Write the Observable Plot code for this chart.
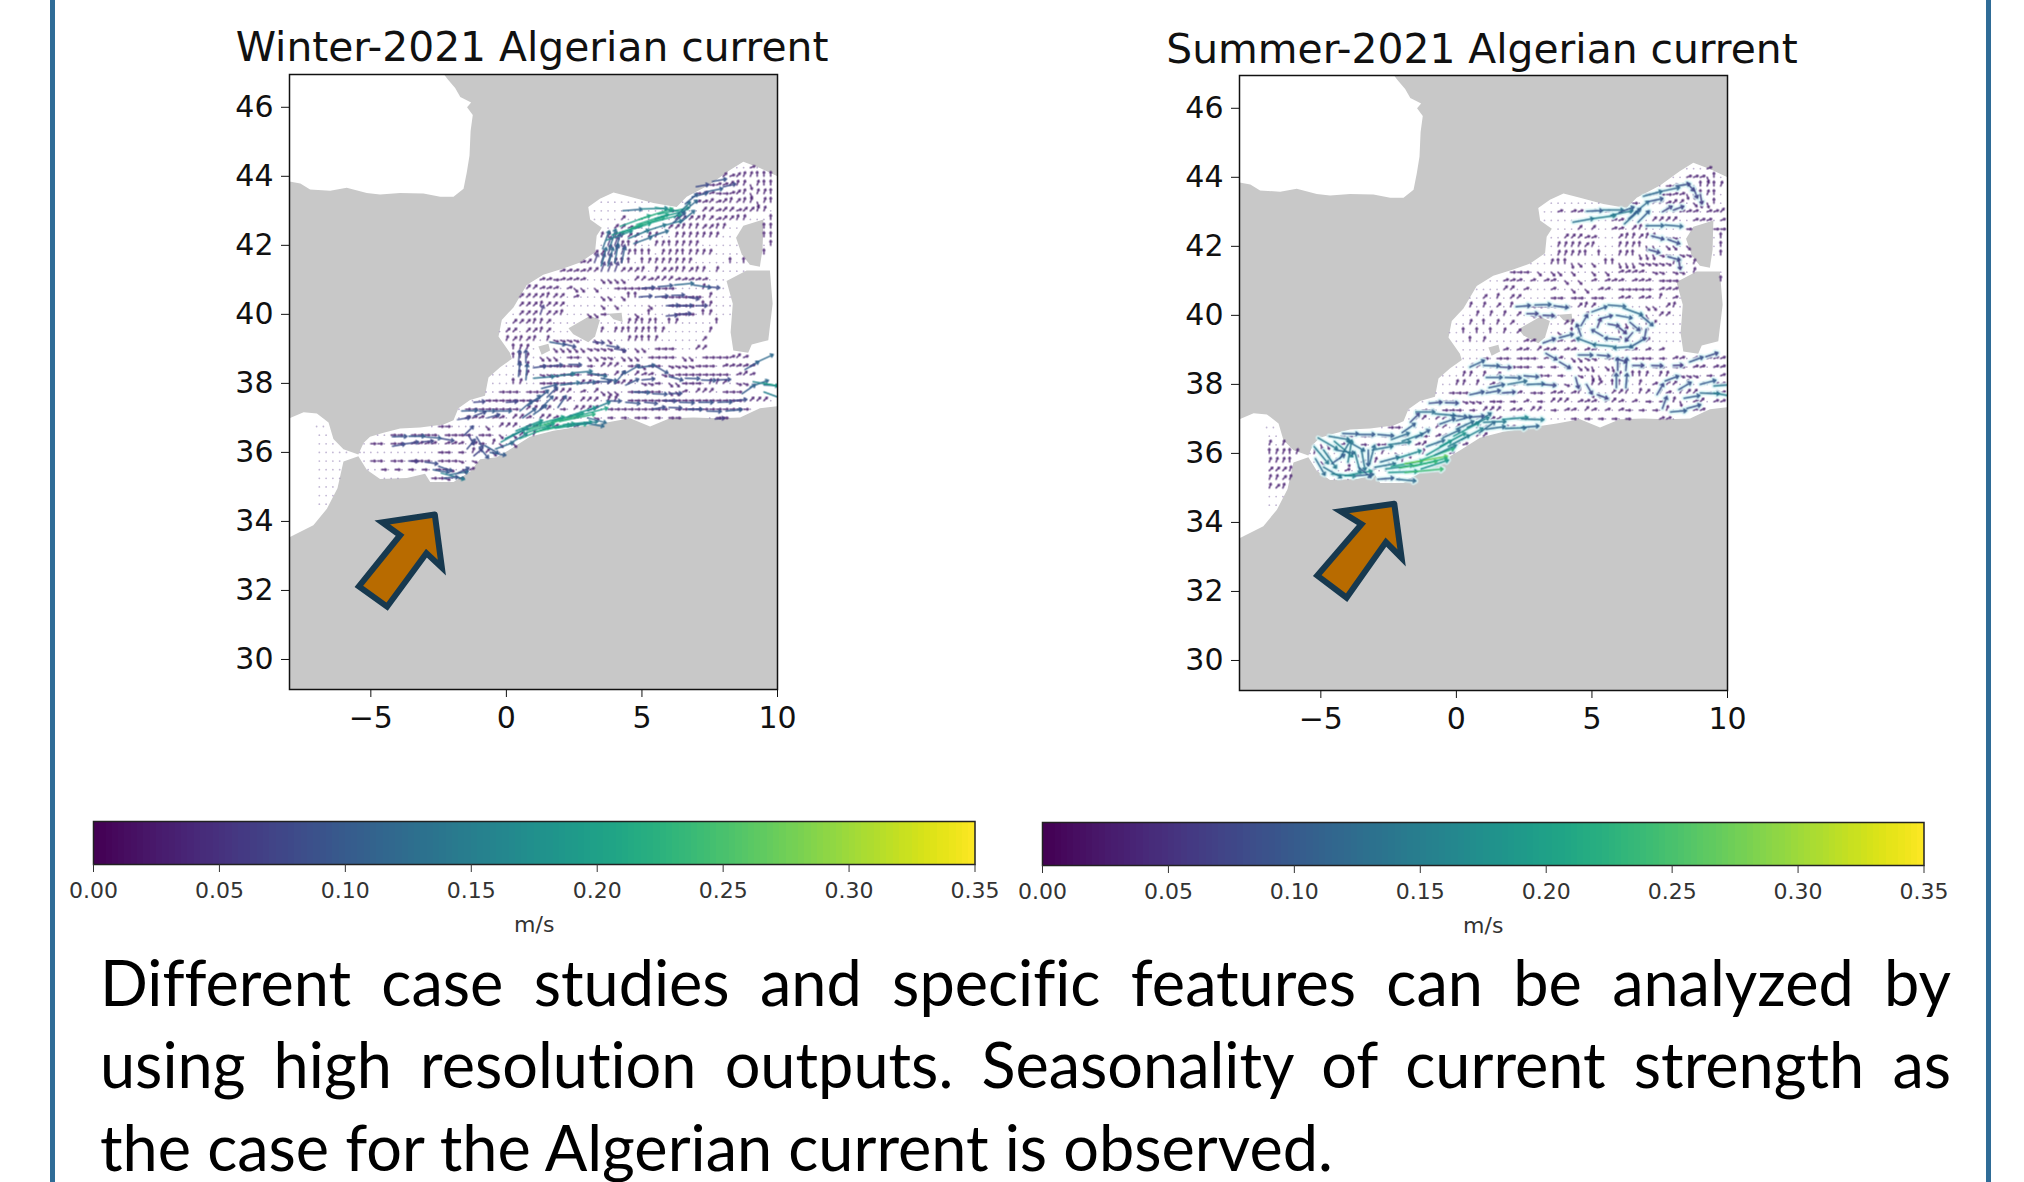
<!DOCTYPE html>
<html>
<head>
<meta charset="utf-8">
<script src="https://cdn.jsdelivr.net/npm/d3@7"></script>
<script src="https://cdn.jsdelivr.net/npm/@observablehq/plot@0.6"></script>
<style>
html,body{margin:0;padding:0;background:#fff;width:2024px;height:1182px;overflow:hidden}
.abs{position:absolute}
.title{font-family:"DejaVu Sans";font-size:40.8px;color:#111;white-space:nowrap;transform:translateX(-50%)}
.para{position:absolute;left:100px;width:1851px;font-family:Lato;font-size:63px;font-variant-ligatures:none;color:#000;white-space:nowrap;text-align:justify;text-align-last:justify;line-height:82px}
.rule{position:absolute;top:0;height:1182px;width:5px;background:#2f6c97}
svg{overflow:visible}
</style>
</head>
<body>
<div class="rule" style="left:50px"></div>
<div class="rule" style="left:1986px"></div>
<div id="root"></div>
<script>
const lonTicks = [-5, 0, 5, 10];
const latTicks = [30, 32, 34, 36, 38, 40, 42, 44, 46];
const barTicks = [0, 0.05, 0.1, 0.15, 0.2, 0.25, 0.3, 0.35];
const titles = ["Winter-2021 Algerian current", "Summer-2021 Algerian current"];
const noteLines = [
  "Different case studies and specific features can be analyzed by",
  "using high resolution outputs. Seasonality of current strength as",
  "the case for the Algerian current is observed."
];

const biscaySea = [[-8,46.95],[-2.3,46.95],[-2.15,46.8],[-1.89,46.56],[-1.7,46.3],[-1.3,46.14],[-1.45,46],[-1.24,45.78],[-1.32,45.31],[-1.36,44.6],[-1.46,44.12],[-1.58,43.64],[-1.95,43.41],[-2.44,43.41],[-3.06,43.5],[-3.92,43.52],[-4.66,43.47],[-5.15,43.52],[-5.89,43.67],[-6.5,43.58],[-7.24,43.62],[-7.6,43.79],[-8,43.85]];
const medSea = [[-8,36.99],[-7.48,37.16],[-6.99,37.13],[-6.56,36.87],[-6.38,36.39],[-6.01,36.09],[-5.46,35.94],[-5.27,36.27],[-5.03,36.45],[-4.53,36.57],[-3.92,36.69],[-3.18,36.72],[-2.32,36.81],[-1.95,36.93],[-1.77,37.28],[-1.34,37.52],[-0.79,37.64],[-0.66,38.17],[-0.23,38.47],[0.2,38.71],[0.13,38.89],[-0.29,39.36],[-0.17,39.84],[0.26,40.2],[0.75,40.85],[1.36,41.15],[2.1,41.33],[2.72,41.5],[3.27,41.8],[3.33,42.28],[3.52,42.51],[3.09,42.75],[3.02,43.11],[3.45,43.35],[3.95,43.53],[4.56,43.41],[5.42,43.23],[6.28,43.11],[6.65,43.41],[7.51,43.76],[8.25,44.18],[8.74,44.42],[9.35,44.24],[10,44],[10,37.34],[9.35,37.28],[8.62,37.01],[7.76,36.99],[6.9,37.01],[6.03,36.99],[5.3,36.75],[4.56,36.99],[3.7,36.87],[2.72,36.75],[1.73,36.63],[0.87,36.45],[0.14,36.09],[-0.36,35.86],[-0.97,35.8],[-1.34,35.44],[-1.95,35.14],[-2.81,35.14],[-3,35.38],[-3.67,35.26],[-4.66,35.23],[-5.15,35.5],[-5.39,35.8],[-5.46,35.89],[-6.01,35.74],[-6.23,34.96],[-6.62,34.37],[-7.12,33.89],[-8,33.54]];
const mallorca = [[2.29,39.6],[3.09,39.96],[3.45,39.84],[3.27,39.36],[3.02,39.19],[2.47,39.42]];
const menorca = [[3.76,40.02],[4.25,40.05],[4.29,39.78],[3.95,39.86]];
const ibiza = [[1.18,39.07],[1.55,39.15],[1.61,38.95],[1.3,38.83]];
const corsica = [[9.48,42.75],[9.45,41.9],[9.35,41.38],[8.98,41.44],[8.68,41.74],[8.47,42.22],[8.74,42.57]];
const sardinia = [[8.86,41.27],[9.72,41.27],[9.82,40.31],[9.66,39.25],[9.05,39.13],[8.92,38.89],[8.37,38.95],[8.27,39.48],[8.35,40.31],[8.12,40.97]];
const islands = [mallorca, menorca, ibiza, corsica, sardinia];

const winterArrow = [[-2.64,34.2],[-4.58,33.97],[-3.92,33.6],[-5.44,32.12],[-4.4,31.53],[-2.95,33.08],[-2.38,32.66],[-2.64,34.2]];
const summerArrow = [[-2.29,34.54],[-4.27,34.32],[-3.5,33.95],[-5.13,32.46],[-4.05,31.82],[-2.6,33.43],[-2.02,32.97],[-2.29,34.54]];

// Dab field read row by row on the 0.25 degree grid: [lat, first lon, one mark per cell].
// "." calm; letter = heading class, lower case weak, upper case stronger.
const headingByLetter = {e:90, s:70, r:45, q:20, n:0, p:160, f:135, t:110};

const winterRows = [
 [44.25,8.5,"..s.n...."],
 [44,8,"rsrqqnnnn"],
 [43.75,7.25,"eessrqqpqnnnq"],
 [43.5,7,"esseesrqpqqnnq"],
 [43.25,3.5,"..............ssrsrqrqqpqnnq"],
 [43,3.25,"...........e....rrsrrsrrqq..nn"],
 [42.75,3.25,"....r.......rrrrqrsrrqq...nnq"],
 [42.5,3.5,"..rrss....rrqqqrrqq....qnnn"],
 [42.25,3.5,"qqqqrr.qq..qqqqqqq.....nnn"],
 [42,3.25,"..QQqnq..qqnqqqq......nnn.n"],
 [41.75,2.75,"..rrQQQqnnn.qqqnqqqq.....n.n"],
 [41.5,2.25,"eesrQQQqnn.nqqqqqqq.....n.n"],
 [41.25,1.25,"sssssssrrQQQrrrq.qrrqqrqq.q.....nn"],
 [41,0.75,"..ssessss..ffff.rrsrrrsssss.....n"],
 [40.75,0.5,".rrsss.sff.f..eeeeeeeee....q...nn"],
 [40.5,0.25,".rrrrqrr.s...ff.fnn...eeeeee.q....n"],
 [40.25,0,"..rrrqrrr.....f.f....f..eeee.nq.....n"],
 [40,-0.25,"...rrrQrrq...ffe....f.n...eee.nq....n"],
 [39.75,-0.25,"..rrrqqr...........qqnqn.nq.....n"],
 [39.5,-0.25,".rr.rrqr......nq.qqnqqnnq......q"],
 [39.25,-0.25,".qrqrq.qtttt..f.f..qqnnq......r"],
 [39,0,".nqq...ffffftttt.f.ff.eee...rr"],
 [38.75,0.25,"nnq.fff.ee.fftt.fff.eeee.ff.eeeesrs"],
 [38.5,0,"..nq.eeeeee.e.rrr.eefee.tttteee.sssss"],
 [38.25,-0.5,"....nq.ttteee.eee.rr.rss.tteeeeeeee.srs"],
 [38,-0.5,"...nq..eeeee.rrs.rsrr.tte.ffeee.qqr.tt"],
 [37.75,-0.75,"..eee.eee.rrr.s.rfff.eeeee.ffs.rrr.eee"],
 [37.5,-1.25,"..eeeeeeee..rrr.rrr.qq.eeeeeeeeeeeeeeeee.rrr.e"],
 [37.25,-1.75,".eeeeeeee.rrrr.e.rrrr.eeeeeeeee.eeeeeeeeeee."],
 [37,-2,"..sss.ss.rrs.rrs.ss..t.e.e.ee.e.eeee.e.ee"],
 [36.75,-3.25,"...ee.....f.rrr.ss.ss.sss..e.e.e..."],
 [36.5,-5,"...ee.eeee.eeee.ee.f.fr.qs.ss.ss"],
 [36.25,-5.25,".ee.ee.ssss.sss.se.qf.fp.s.ss"],
 [36,-5.25,"...........ee.e.q.rf.fq.rs.s"],
 [35.75,-5.25,".ee.ee.eee.eeet.tr.r.fs.rr.."],
 [35.5,-5.1,"..e.e.e.e.eet.fs.r.ss.r"],
 [35.25,-4.5,"...e.e.eet.eeessrs.."],
 [36.75,-7,"...."],[36.5,-6.9,"....."],[36.25,-6.9,"....."],[36,-6.9,"......."],[35.75,-6.9,"...."],
 [35.5,-6.9,"...."],[35.25,-6.9,"...."],[35,-6.9,"...."],[34.75,-6.9,"..."],[34.5,-6.9,".."]
];

// Strong arrows read individually: [lon, lat, heading degrees, speed m/s]
const winterCurrents = [
 [3.9,42.3,72,.2],[4.6,42.5,72,.22],[5.3,42.65,75,.2],[4.2,42.55,70,.2],[4.9,42.75,72,.22],[5.6,42.9,78,.2],[4.5,42.2,68,.14],[5.1,42.4,72,.14],[5.7,42.55,75,.14],
 [3.7,42.15,70,.17],[4.2,42.35,72,.2],[4.8,42.6,72,.21],[5.5,42.78,76,.19],[4.7,42.05,70,.12],[5.3,42.25,72,.12],
 [4.3,43,85,.12],[5,43.05,88,.16],[5.5,43.1,100,.18],[6.2,42.8,45,.14],[6.4,42.65,50,.12],[6.5,42.95,50,.12],[6.15,42.65,50,.1],
 [3.5,41.4,15,.12],[3.75,41.4,15,.12],[4,41.5,10,.12],[4.25,41.5,12,.1],[3.55,41.9,20,.12],[3.8,41.9,18,.13],[4.05,41.9,15,.1],
 [6.85,43.4,75,.1],[7.4,43.55,78,.1],[8,43.7,78,.08],[7,43.7,80,.08],[7.6,43.85,80,.09],[6.6,43.2,50,.1],
 [5,40.75,85,.08],[5.6,40.8,85,.09],[6.2,40.85,85,.12],[6.9,40.85,98,.11],[7.4,40.8,95,.08],[4.9,40.5,85,.08],[5.5,40.5,85,.08],[6.1,40.55,88,.08],[6.7,40.5,100,.07],[5.9,40.25,88,.08],[6.4,40.25,90,.08],[7,40.25,90,.07],[5.9,39.95,85,.07],[6.4,40,85,.07],
 [1.6,39.2,100,.1],[2.1,39.15,105,.08],[3.2,39.2,95,.07],[3.7,39.1,100,.08],[4,39,100,.07],
 [.45,38.2,5,.09],[.72,38.1,5,.1],[.45,38.6,5,.08],[.72,38.6,0,.08],
 [1,38.15,85,.13],[1.7,38.2,83,.14],[2.4,38.3,85,.13],[3,38.3,100,.12],[3.5,38.15,100,.1],[1,38.45,82,.08],[1.6,38.5,85,.08],[2.3,38.55,92,.08],[1.3,37.85,75,.1],[2,37.95,82,.12],[2.7,38,85,.1],[3.3,38.05,90,.09],
 [4,38,40,.1],[4.4,38.3,60,.1],[4.9,38.45,80,.1],[5.5,38.5,120,.09],[6,38.2,105,.09],[6.6,38.15,92,.09],[7.2,38.1,92,.09],[7.8,38.1,88,.08],[4.4,37.95,65,.09],[5,38.1,85,.08],
 [4.7,37.75,92,.1],[5.4,37.7,92,.09],[6,37.7,88,.08],[3.7,37.5,92,.09],[4.4,37.45,95,.09],[5.1,37.45,95,.08],[5.8,37.5,92,.08],[6.4,37.45,92,.09],[7.1,37.45,90,.09],[7.8,37.45,88,.09],[8.4,37.5,85,.08],
 [5.4,37.25,80,.08],[6,37.3,92,.08],[6.7,37.25,90,.09],[7.4,37.2,92,.09],[8.1,37.2,85,.1],[7.7,36.97,85,.06],
 [8.7,37.7,55,.1],[9,37.9,70,.12],[9.5,37.95,92,.12],[9.1,38.05,100,.16],[9.5,38,100,.2],[8.8,38.4,60,.1],[9.2,38.6,65,.12],[9.5,37.75,110,.15],
 [-.2,36.3,62,.17],[.2,36.5,68,.2],[.8,36.65,72,.22],[1.4,36.8,75,.23],[2,36.9,78,.22],[2.6,37.05,75,.2],[3,37.2,68,.15],[.1,36.25,60,.13],[.5,36.4,68,.2],[1.1,36.6,78,.22],[1.8,36.7,82,.2],[2.5,36.8,82,.15],[2.9,36.85,100,.12],[3,37,105,.12],
 [-.05,36.4,65,.16],[.35,36.62,68,.18],[1,36.78,74,.2],[1.7,36.92,76,.2],[2.3,37.05,72,.18],[.65,36.55,72,.2],[1.35,36.68,80,.2],[2.1,36.8,84,.18],
 [-1.65,37.2,88,.1],[-1,37.2,90,.1],[-.4,37.2,90,.1],[-1.2,37.45,85,.07],[0,37.45,85,.07],
 [.5,37.2,50,.1],[.8,37.35,50,.1],[1.1,37.5,50,.1],[1.3,37.3,45,.1],[.6,37,55,.1],[1,37.1,55,.1],[1.5,37.6,45,.09],[1.9,37.3,35,.09],
 [-1.8,36.95,80,.08],[-1.2,37.05,70,.08],[-.7,37,75,.08],
 [-4.2,36.45,88,.09],[-3.6,36.47,90,.1],[-3,36.45,95,.1],[-2.4,36.4,100,.08],[-4.2,36.18,80,.08],[-3.7,36.25,82,.08],[-3.1,36.3,85,.07],
 [-3.6,35.75,92,.06],[-3,35.72,98,.08],[-2.5,35.6,110,.09],[-2.7,35.5,100,.1],[-2.4,35.4,105,.15],[-2.1,35.35,80,.12],[-2.3,35.25,85,.09],[-1.8,35.4,65,.08],
 [-1.4,36.5,150,.07],[-1.1,36.45,150,.08],[-1,36.15,140,.09],[-.8,36.2,120,.1],[-1.45,36.1,40,.08],[-1.2,35.9,50,.07],[-1.55,36.5,45,.08],[-.6,36,100,.1],[-.4,36.1,70,.12]
];

const summerRows = [
 [44.25,8.5,"...s.s..."],
 [44,8,"..ssspn.n."],
 [43.75,7.5,".ess.pnqnq."],
 [43.5,7,"eseessppnqn.."],
 [43.25,3.5,"...........ee..rrsrr.fppn.n.."],
 [43,3.25,"..s.ss.sss..ee....qrsss.ssrr.....n"],
 [42.75,3.25,"..........ss....rrrr..sss.ss"],
 [42.5,3.25,".....r.r..ss.rqq.....eee.ee.q"],
 [42.25,3.5,"..rrrss...rqqrqq.tt.ff...nn"],
 [42,3.25,"..qqqqrq...qqqnpp.ff.f.q..n"],
 [41.75,2.75,"....qqqqn.n..qqnppptt.tt.qn.n"],
 [41.5,2.25,".....qnnpf.f.nnppptttttqn.q"],
 [41.25,1.25,".eeeee.f.ff.f..f.f.ssss.tt.tt.q....nn"],
 [41,.75,"....sss.s.ss.f.f.s.sss.sss.eee......nq"],
 [40.75,.5,".....rr.s...s..f.f.ss.eeeee.sss....n"],
 [40.5,.25,"...r.q.rr....ee.ee.ee..ss.ss.q.s....q"],
 [40.25,0,"..q.q.r.q.eeeeeee.rqr.......ff.rq...n"],
 [40,-.25,"....q.q.q.r.tttt.ee.r.......fp.rr....n"],
 [39.75,-.25,"...q.n.q.r.......rq.......pp.qr.....n"],
 [39.5,-.25,"..n.n.n.q.r.....f.nq.....nn.qq......n"],
 [39.25,-.25,"...n.q.....sss.ss.sr.....qq.rr......r"],
 [39,0,".....q.s.ss.rss.ss.ss....ss.s.s"],
 [38.75,.25,"...e.ee.eee.s.s.fftt.eee.eee.e.ss.s.sss"],
 [38.5,-.25,"...rr.ss.eee.e.e.e.ffp.fpnn.e.ee.ee.ss.ss.s"],
 [38.25,-.5,"...qq.q.r.ttt.ee.e..t.pp.rq.nnq.qq.ttt.e.ssrr"],
 [38,-.5,"..qq.q.ss.e.e.e.e.t.p.qr.nnq.q.s.rr.q.s.ssss"],
 [37.75,-.75,"..eee.ss.ee.s.ee.ss.sq.pp.rrq.qr.qs.qrr.ess"],
 [37.5,-1.25,"..eee.ttt.ee.e.s.e.rrr.sss.rrs.s.e.e.qp.sr.ss"],
 [37.25,-1.75,"..ee.eee.e.rrr.ss.rr.e.ss.rs.s.se.e.e.q.t.ss"],
 [37,-2,"..rr.rr.rr.s.ss.se.e.....e.e.e.e.ee.s.ss.e"],
 [36.75,-3.25,"...ee.....rr.rr.rss.ss.e.e.e"],
 [36.5,-5,"...ee.ee.ee.e.ee.ss.sr.rr.ss.s"],
 [36.25,-5.25,".pp.ss.e.ee.ss.sr.rr.rs.ss.ss"],
 [36,-5.25,"q.p.r.f.p.q.f.p.q.r.sr.ss.ss.s"],
 [35.75,-5.25,".f.r.p.s.q.p.n.f.fp.ee.ss.s"],
 [35.5,-5.1,"..p.s.e.r.n.q.e.ee.ss.s"],
 [35.25,-4.5,"...e.e.e.e.e.e.ee.."],
 [36.75,-7,"...."],[36.5,-6.9,"..q.."],[36.25,-6.9,"q.q.p"],[36,-6.9,"nqqnq.."],[35.75,-6.9,"qqqn"],
 [35.5,-6.9,"rrrq"],[35.25,-6.9,"qqrq"],[35,-6.9,"qrq."],[34.75,-6.9,"..."],[34.5,-6.9,".."]
];

const summerCurrents = [
 [4.3,42.7,80,.13],[5,42.8,82,.15],[5.7,42.9,78,.14],[4.8,43.02,88,.1],[5.4,43.05,90,.13],[6,42.98,70,.1],
 [6.2,42.65,48,.12],[6.55,42.95,50,.12],[6.7,42.7,45,.1],[6.35,42.8,50,.1],
 [6.9,43.45,75,.12],[7.6,43.6,78,.11],[8.1,43.75,82,.09],[7.1,43.3,78,.09],
 [8.5,43.85,140,.07],[8.75,43.7,160,.07],[9,43.5,170,.06],
 [7,42.6,90,.11],[7.7,42.62,95,.11],[7.6,43,60,.07],[8,43.05,70,.07],
 [7.2,42.3,105,.08],[7.8,42.2,110,.08],[7.1,41.9,105,.07],[7.8,41.7,105,.08],[8.2,41.6,170,.06],
 [2.2,40.25,85,.09],[2.9,40.3,88,.1],[3.6,40.28,98,.09],[2.6,40.05,90,.07],[3.2,40,92,.07],
 [5,40.1,70,.1],[5.6,40.3,95,.11],[6.2,40.2,110,.12],[6.8,40,130,.1],[7,39.6,190,.07],[6.9,39.3,240,.1],[6.5,39.1,265,.12],[5.8,39.1,275,.13],[5.1,39.15,290,.12],[4.6,39.4,340,.08],[4.6,39.7,30,.08],
 [5.3,39.9,75,.08],[5.9,40,100,.1],[6.4,39.8,130,.08],[6.5,39.5,220,.07],[6,39.3,275,.09],[5.4,39.4,300,.08],[5.2,39.65,20,.06],[5.6,39.75,100,.07],[6,39.65,130,.06],
 [3.2,39.2,70,.08],[3.8,39.35,75,.09],[3.3,38.9,120,.08],[3.8,38.65,120,.08],
 [4.5,38.85,90,.09],[5.2,38.85,95,.08],[5.9,38.75,110,.07],
 [5.9,37.9,0,.09],[5.95,38.4,0,.08],[6.25,37.9,5,.09],[6.25,38.4,5,.08],
 [4.4,38.2,165,.07],[4.8,38,150,.07],[5.2,37.7,110,.07],
 [6.5,38.55,90,.07],[7.2,38.55,92,.07],[8,38.55,88,.06],[8.6,38.65,70,.09],[9.2,38.8,72,.08],
 [7.6,37.3,20,.08],[7.4,37.7,30,.08],[7.7,38.1,70,.09],[8.2,37.85,60,.09],[8.4,37.6,80,.1],[7.9,37.2,85,.1],[8.5,37.3,75,.09],[9,37.75,92,.12],[9.5,37.75,100,.15],[9,38,75,.1],[9.5,37.95,85,.14],
 [.5,38.5,65,.1],[1,38.55,92,.1],[1.6,38.5,92,.07],[1.1,38.2,90,.1],[1.8,38.2,92,.1],[2.5,38.25,95,.09],
 [1.2,37.9,78,.1],[1.9,38,80,.12],[2.6,38,88,.11],[3.2,38,95,.08],[.5,37.7,78,.09],[1.1,37.75,80,.09],[1.7,37.75,85,.08],
 [-1.5,37.2,90,.12],[-.8,37.15,95,.13],[-.2,37.1,95,.1],[-1,37.45,85,.08],[-.4,37.47,92,.08],
 [-.6,36.85,70,.1],[0,36.95,75,.1],[.5,37.05,85,.09],
 [1,36.9,88,.14],[1.7,36.98,85,.16],[2.4,37,92,.14],[1.1,36.7,82,.12],[1.8,36.72,88,.13],[2.4,36.75,85,.11],[.7,36.85,55,.12],[.85,36.6,55,.12],
 [-3,35.6,80,.13],[-2.4,35.62,80,.2],[-1.9,35.7,80,.27],[-1.3,35.8,70,.22],[-2.5,35.45,88,.18],[-1.9,35.45,85,.24],[-1.3,35.55,72,.18],[-2.9,35.25,85,.1],[-2.2,35.25,95,.12],
 [-2.6,35.55,82,.17],[-2.1,35.58,80,.24],[-1.6,35.62,76,.22],[-2.8,35.75,75,.12],[-2.2,35.85,72,.16],
 [-1.1,35.95,60,.18],[-.6,36.2,62,.18],[-.1,36.5,62,.18],[.4,36.75,65,.15],[-.8,35.95,65,.15],[-.3,36.2,62,.15],[.2,36.4,62,.15],[-1.1,36.2,70,.12],[-.5,36.45,65,.12],[0,36.7,65,.12],
 [-4.2,36.58,92,.1],[-3.6,36.55,90,.1],[-2.9,36.55,95,.1],[-2.4,36.4,70,.12],[-2,36.6,55,.1],[-1.7,36.9,45,.08],
 [-3.1,36.1,80,.13],[-2.5,36.25,82,.14],[-2,36.35,70,.14],[-1.5,36.45,60,.1],
 [-5.25,36.2,140,.14],[-5.1,36.45,120,.14],[-4.7,36.5,100,.13],[-4.9,36.1,145,.14],[-5.2,35.85,150,.12],[-4.9,35.6,120,.13],[-4.6,35.4,95,.15],[-4.1,35.35,80,.17],
 [-4.5,36.35,130,.15],[-4,36.35,120,.12],[-4.45,36.1,100,.12],[-4.3,35.85,30,.13],[-4.6,35.7,55,.1],[-4,35.75,10,.14],[-3.75,36.05,165,.14],[-3.5,36.1,170,.13],[-3.2,35.7,15,.12],[-3.25,36.1,180,.1],[-3.6,35.6,130,.1],[-3.7,35.35,85,.11]
];

const seaCheck = ([lon, lat]) => d3.polygonContains(medSea, [lon, lat]) && !islands.some(p => d3.polygonContains(p, [lon, lat]));
function readRows(rows) {
  const dabs = [], calm = [];
  for (const [lat, lon0, cells] of rows) {
    [...cells].forEach((c, i) => {
      const lon = lon0 + i * 0.25;
      if (!seaCheck([lon, lat])) return;
      const key = c.toLowerCase();
      if (c === "." || !(key in headingByLetter)) calm.push({lon, lat});
      else dabs.push({lon, lat, dir: headingByLetter[key], speed: c === key ? 0.03 : 0.06});
    });
  }
  return {dabs, calm};
}
const asArrows = rows => rows.map(([lon, lat, dir, speed]) => ({lon, lat, dir, speed}));

const viridis = {type: "linear", scheme: "viridis", domain: [0, 0.35]};
const sizeScale = {type: "linear", domain: [0, 0.35], range: [0, 56]};
const axisFont = {fontFamily: "DejaVu Sans", fontSize: "30px", color: "#111", background: "transparent"};
const slimArrow = {
  draw(ctx, l) {
    const h = Math.min(2.5, l * 0.25);
    ctx.moveTo(0, 0);
    ctx.lineTo(0, -l);
    ctx.moveTo(-h * 0.7, -l + h);
    ctx.lineTo(0, -l);
    ctx.lineTo(h * 0.7, -l + h);
  }
};
const lonLabel = d => d < 0 ? "\u2212" + Math.abs(d) : String(d);

function panel(rows, currents, arrow, halo) {
  const {dabs, calm} = readRows(rows);
  const strong = asArrows(currents);
  const poly = (d, fill) => Plot.line(d, {x: p => p[0], y: p => p[1], fill, stroke: "none", clip: true});
  const vec = (d, extra) => Plot.vector(d, {x: "lon", y: "lat", length: "speed", rotate: "dir", anchor: "start", shape: slimArrow, clip: true, imageFilter: "blur(0.5px)", ...extra});
  return Plot.plot({
    width: 598, height: 675,
    marginLeft: 70, marginRight: 40, marginTop: 10, marginBottom: 50,
    style: axisFont,
    x: {domain: [-8, 10], label: null},
    y: {domain: [29.13, 46.95], label: null},
    color: viridis,
    length: sizeScale,
    marks: [
      Plot.frame({fill: "#c8c8c8", stroke: "none"}),
      poly(biscaySea, "white"),
      poly(medSea, "white"),
      ...islands.map(p => poly(p, "#c8c8c8")),
      Plot.dot(calm, {x: "lon", y: "lat", r: 0.9, fill: "#8f7bb0", fillOpacity: 0.55, clip: true}),
      vec(dabs, {stroke: "speed", strokeWidth: 1.6, strokeOpacity: 0.85}),
      ...(halo ? [vec(strong, {stroke: "#d9f6f6", strokeWidth: 5, strokeOpacity: 0.8})] : []),
      vec(strong, {stroke: "speed", strokeWidth: 1.5, strokeOpacity: 0.95}),
      Plot.line(arrow, {x: p => p[0], y: p => p[1], fill: "#b86b00", stroke: "#17394f", strokeWidth: 6, strokeLinejoin: "miter", strokeMiterlimit: 8}),
      Plot.frame({stroke: "#111", strokeWidth: 1.5}),
      Plot.axisX({anchor: "bottom", ticks: lonTicks, tickFormat: lonLabel, tickSize: 8, tickPadding: 9, label: null}),
      Plot.axisY({anchor: "left", ticks: latTicks, tickSize: 8, tickPadding: 8, label: null})
    ]
  });
}

function colorbar() {
  const ramp = d3.range(0, 0.35, 0.0025).map(v => ({v}));
  return Plot.plot({
    width: 941.5, height: 130,
    marginLeft: 30, marginRight: 30, marginTop: 1, marginBottom: 86,
    style: {fontFamily: "DejaVu Sans", fontSize: "22px", color: "#333", background: "transparent"},
    x: {domain: [0, 0.35]},
    y: {axis: null},
    color: viridis,
    marks: [
      Plot.rectY(ramp, {x1: "v", x2: d => d.v + 0.0027, y1: 0, y2: 1, fill: "v", shapeRendering: "crispEdges"}),
      Plot.frame({stroke: "#222", strokeWidth: 1.5}),
      Plot.axisX({ticks: barTicks, tickFormat: d3.format(".2f"), tickSize: 8, tickPadding: 10, label: "m/s", labelAnchor: "center", labelArrow: "none", labelOffset: 67})
    ]
  });
}

const root = document.getElementById("root");
function place(node, left, top) {
  const w = document.createElement("div");
  w.className = "abs";
  w.style.left = left + "px";
  w.style.top = top + "px";
  w.appendChild(node);
  root.appendChild(w);
}
function label(text, cls, css) {
  const d = document.createElement("div");
  d.className = cls;
  d.style.cssText += css;
  d.textContent = text;
  root.appendChild(d);
}
place(panel(winterRows, winterCurrents, winterArrow, false), 219, 63.5);
place(panel(summerRows, summerCurrents, summerArrow, true), 1169, 65);
label(titles[0], "abs title", "left:532px;top:23px");
label(titles[1], "abs title", "left:1482px;top:25px");
place(colorbar(), 62.5, 820);
place(colorbar(), 1012, 821);
noteLines.forEach((t, i) => {
  label(t, "para", "top:" + (941 + i * 82 + (i === 2 ? 1 : 0)) + "px;" + (i === 2 ? "text-align:left;text-align-last:left;" : ""));
});
</script>
</body>
</html>
